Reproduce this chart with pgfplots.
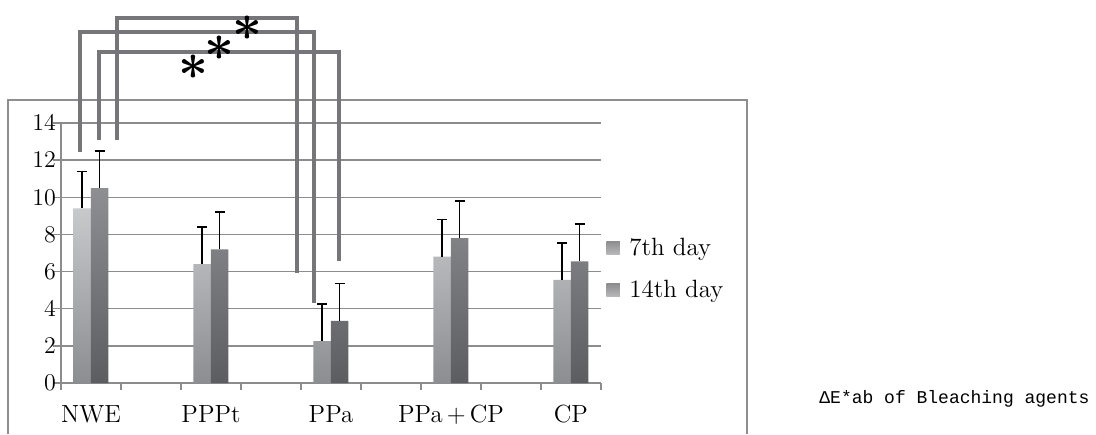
\documentclass[border=0pt]{standalone}
\usepackage{amsmath}
\usepackage{pgfplots}
\usepackage{pgfplotstable}
\pgfplotsset{compat=1.18}
\usepackage{fontspec}
\newfontfamily\monofont{Liberation Mono}
\definecolor{gridgray}{HTML}{8C8C8E}
\definecolor{framegray}{HTML}{8E8E90}
\definecolor{brk}{HTML}{76767A}
\definecolor{lighttop}{HTML}{C8C9CB}
\definecolor{lightbot}{HTML}{8C8D90}
\definecolor{darktop}{HTML}{8E8F92}
\definecolor{darkbot}{HTML}{5C5D60}
\definecolor{legtop}{HTML}{8E8E91}
\definecolor{legbot}{HTML}{B8B8BA}

\pgfplotstableread{
x  a    ea   b     eb
0  9.4  2.0  10.5  2.0
2  6.4  2.0  7.2   2.0
4  2.25 2.0  3.35  2.0
6  6.8  2.0  7.8   2.0
8  5.55 2.0  6.55  2.0
}\datatable

\begin{document}
\begin{tikzpicture}[x=1pt,y=1pt]
\useasboundingbox (0,0) rectangle (548,217);
\draw[framegray, line width=0.75pt] (4,0) -- (4,167) -- (373.5,167) -- (373.5,0);
\node[anchor=base west, font=\monofont\fontsize{9.0}{11}\selectfont, inner sep=0pt] at (409.5,15.5) {ΔE*ab of Bleaching agents};
\begin{axis}[
  at={(30.5pt,25.5pt)}, anchor=south west,
  scale only axis, width=270pt, height=130pt,
  xmin=-0.5, xmax=8.5, ymin=0, ymax=14,
  axis x line=bottom, axis y line=left,
  axis line style={-, gridgray, line width=0.75pt},
  xtick={0,2,4,6,8},
  xticklabels={NWE,PPPt,PPa,PPa\,+\,CP,CP},
  minor xtick={-0.5,0.5,...,8.5},
  ytick={0,2,...,14},
  tick align=outside,
  major tick length=4pt, minor tick length=3.5pt,
  major x tick style={draw=none},
  tick style={gridgray, line width=0.75pt},
  ymajorgrids,
  major grid style={gridgray, line width=0.75pt},
  xticklabel style={font=\fontsize{12.4}{15}\selectfont, yshift=-3.5pt},
  yticklabel style={font=\fontsize{12.8}{15}\selectfont, xshift=5pt},
  clip=false,
  ybar=0pt, bar width=8.75pt,
  legend style={at={(1,0.438)}, anchor=west, xshift=2.5pt, draw=none, fill=none,
    inner sep=0pt, font=\fontsize{12.5}{15}\selectfont, row sep=7pt},
  legend cell align=left,
  legend image code/.code={\path[top color=legtop, bottom color=legbot] (0pt,-3.2pt) rectangle (6.8pt,3.2pt); \path (0pt,0pt) -- (9.5pt,0pt);},
]
\addplot[draw=none, top color=lighttop, bottom color=lightbot,
  error bars/.cd, y dir=plus, y explicit,
  error bar style={black, line width=0.75pt},
  error mark options={black, mark size=2.5pt, line width=0.75pt, rotate=90}]
  table[x=x, y=a, y error=ea] {\datatable};
\addlegendentry{7th day}
\addplot[draw=none, top color=darktop, bottom color=darkbot,
  error bars/.cd, y dir=plus, y explicit,
  error bar style={black, line width=0.75pt},
  error mark options={black, mark size=2.5pt, line width=0.75pt, rotate=90}]
  table[x=x, y=b, y error=eb] {\datatable};
\addlegendentry{14th day}

\draw[brk, line width=2pt] (axis cs:-0.1833,12.44) |- (axis cs:3.7167,18.90) -- (axis cs:3.7167,4.31);
\draw[brk, line width=2pt] (axis cs:0.4333,13.08) |- (axis cs:3.4333,19.65) -- (axis cs:3.4333,5.92);
\draw[brk, line width=2pt] (axis cs:0.1333,13.08) |- (axis cs:4.1333,17.82) -- (axis cs:4.1333,6.57);
\node[inner sep=0pt, scale=2.6] at (axis cs:1.70,17.0) {$\boldsymbol{\ast}$};
\node[inner sep=0pt, scale=2.6] at (axis cs:2.14,18.0) {$\boldsymbol{\ast}$};
\node[inner sep=0pt, scale=2.6] at (axis cs:2.61,19.1) {$\boldsymbol{\ast}$};
\end{axis}
\end{tikzpicture}
\end{document}
